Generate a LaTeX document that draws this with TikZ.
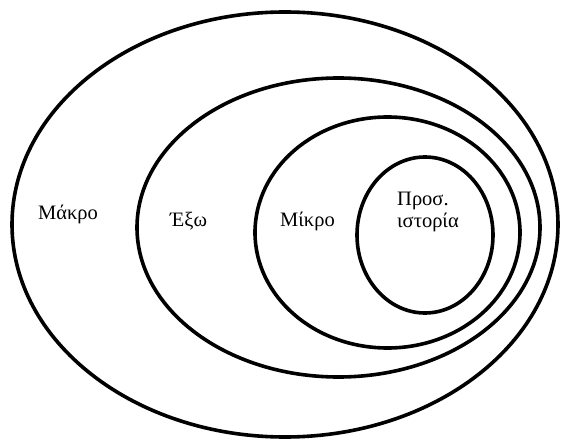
\documentclass[tikz,border=0pt]{standalone}
\usepackage{fontspec}
\setmainfont{Liberation Serif}
\usetikzlibrary{shapes.geometric}

\begin{document}
\begin{tikzpicture}[
  x=1pt, y=-1pt,
  ring/.style={draw, ellipse, line width=3.6pt, inner sep=0pt},
  lbl/.style={font=\fontsize{20.5}{22.5}\selectfont, inner sep=0pt, anchor=base west, align=left},
  ]
  \useasboundingbox (0,0) rectangle (563,441);
  % nested rings, outermost first
  \node[ring, minimum width=546pt, minimum height=425pt] (makro) at (285,224.5) {};
  \node[ring, minimum width=403pt, minimum height=299pt] (exo) at (338.5,227.5) {};
  \node[ring, minimum width=265pt, minimum height=231pt] (mikro) at (387.5,232.5) {};
  \node[ring, minimum width=136pt, minimum height=156pt] (pros) at (425,235) {};
  % labels
  \node[lbl] (tmakro) at (38,220) {Μάκρο};
  \node[lbl] (texo) at (170,227) {Έξω};
  \node[lbl] (tmikro) at (280,227) {Μίκρο};
  \node[lbl] (tpros) at (397,228) {Προσ.\\ιστορία};
\end{tikzpicture}
\end{document}
